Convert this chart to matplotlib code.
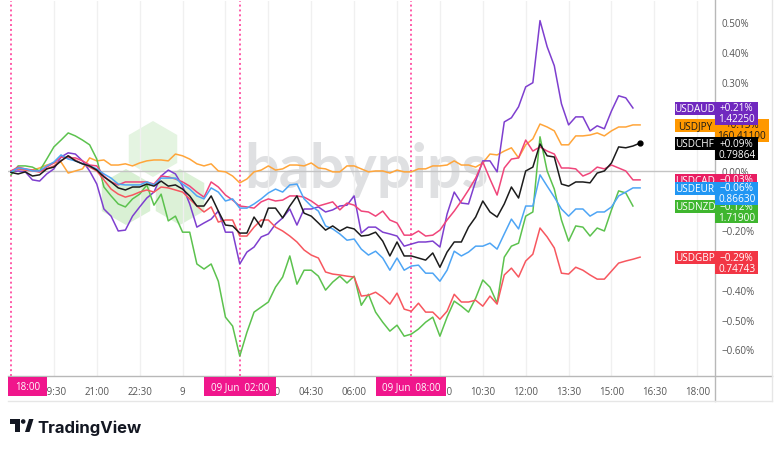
import numpy as np
import matplotlib.pyplot as plt
from matplotlib.patches import Rectangle, RegularPolygon, Polygon, Circle
from matplotlib.lines import Line2D
from matplotlib.transforms import IdentityTransform

plt.rcParams['font.family'] = ['Open Sans', 'DejaVu Sans']

W, H = 780, 452
PX = IdentityTransform()
nan = np.nan

# ================================
# Data: % change since 18:00 (8 Jun), 15-minute steps
# ================================
hours = np.arange(89) * 0.25  # hours after 18:00

usdaud = [-0.003, 0.000, -0.003, -0.030, -0.034, -0.010, 0.007, 0.047, 0.061, 0.057,
          0.034, 0.000, -0.044, -0.128, -0.152, -0.202, -0.199, -0.152, -0.121, -0.091,
          -0.071, -0.017, 0.003, -0.010, -0.051, -0.111, -0.189, -0.175, -0.162, -0.135,
          -0.206, -0.206, -0.313, -0.273, -0.256, -0.222, -0.212, -0.179, -0.158, -0.128,
          -0.182, -0.128, -0.128, -0.121, -0.138, -0.131, -0.118, -0.115, -0.084, -0.209,
          -0.189, -0.189, -0.206, -0.212, -0.219, -0.253, -0.246, -0.239, -0.239, -0.236,
          -0.256, -0.145, -0.071, -0.108, -0.111, -0.034, 0.034, 0.034, -0.003, 0.165,
          0.179, 0.216, 0.283, 0.297, 0.506, 0.418, 0.354, 0.226, 0.155, 0.182,
          0.182, 0.135, 0.152, 0.142, 0.202, 0.253, 0.246, 0.212, nan]

usdjpy = [0.000, 0.007, 0.003, 0.003, 0.010, 0.020, 0.027, 0.030, -0.007, 0.000,
          0.007, 0.044, 0.034, 0.037, 0.020, 0.020, 0.024, 0.017, 0.027, 0.034,
          0.037, 0.037, 0.034, 0.057, 0.051, 0.040, 0.024, 0.017, 0.024, 0.000,
          -0.003, -0.017, -0.040, -0.027, -0.003, 0.003, 0.017, 0.003, 0.007, 0.020,
          0.020, 0.017, 0.027, 0.010, 0.007, -0.003, -0.003, 0.017, 0.017, 0.007,
          -0.003, 0.000, 0.000, -0.007, 0.003, -0.003, -0.003, 0.007, 0.007, 0.017,
          0.017, 0.020, 0.034, 0.020, 0.020, 0.013, 0.027, 0.057, 0.054, 0.067,
          0.078, 0.044, 0.088, 0.108, 0.158, 0.148, 0.135, 0.088, 0.088, 0.118,
          0.118, 0.121, 0.128, 0.118, 0.135, 0.148, 0.148, 0.155, 0.155]

usdchf = [-0.005, -0.010, -0.003, -0.017, -0.013, 0.007, 0.013, 0.034, 0.051, 0.034,
          0.024, 0.017, 0.003, -0.020, -0.037, -0.057, -0.064, -0.054, -0.054, -0.044,
          -0.051, -0.034, -0.051, -0.047, -0.061, -0.084, -0.118, -0.118, -0.084, -0.135,
          -0.182, -0.185, -0.209, -0.209, -0.155, -0.189, -0.125, -0.125, -0.158, -0.118,
          -0.084, -0.142, -0.152, -0.175, -0.199, -0.185, -0.202, -0.189, -0.195, -0.219,
          -0.216, -0.206, -0.236, -0.286, -0.239, -0.286, -0.286, -0.293, -0.300, -0.276,
          -0.324, -0.273, -0.239, -0.239, -0.189, -0.155, -0.101, -0.138, -0.155, -0.111,
          -0.054, -0.091, 0.000, 0.013, 0.091, 0.051, 0.047, -0.044, -0.051, -0.037,
          -0.037, -0.040, -0.007, 0.000, 0.027, 0.081, 0.078, 0.084, 0.094]

usdcad = [0.000, 0.013, 0.007, 0.003, -0.003, 0.013, 0.027, 0.047, 0.044, 0.044,
          0.034, 0.020, 0.017, -0.017, -0.037, -0.047, -0.037, -0.037, -0.037, -0.037,
          -0.044, -0.017, -0.020, -0.027, -0.037, -0.051, -0.071, -0.088, -0.037, -0.054,
          -0.081, -0.098, -0.118, -0.121, -0.125, -0.104, -0.094, -0.101, -0.098, -0.084,
          -0.084, -0.088, -0.101, -0.118, -0.111, -0.104, -0.131, -0.108, -0.115, -0.135,
          -0.138, -0.152, -0.135, -0.165, -0.175, -0.216, -0.216, -0.202, -0.219, -0.216,
          -0.199, -0.165, -0.135, -0.101, -0.064, -0.024, 0.030, -0.027, -0.081, 0.010,
          0.040, 0.044, 0.104, 0.067, 0.081, 0.067, 0.057, 0.010, 0.010, 0.007,
          -0.017, -0.007, 0.013, 0.007, 0.020, 0.010, 0.000, -0.030, -0.030]

useur = [-0.003, 0.010, 0.007, 0.000, 0.000, 0.017, 0.030, 0.054, 0.040, 0.034,
         0.024, 0.017, 0.007, -0.010, -0.024, -0.044, -0.047, -0.047, -0.047, -0.037,
         -0.047, -0.024, -0.024, -0.024, -0.044, -0.061, -0.084, -0.094, -0.057, -0.071,
         -0.101, -0.094, -0.125, -0.125, -0.111, -0.094, -0.074, -0.061, -0.071, -0.047,
         -0.044, -0.094, -0.118, -0.135, -0.185, -0.195, -0.212, -0.233, -0.229, -0.263,
         -0.283, -0.270, -0.293, -0.334, -0.293, -0.334, -0.320, -0.317, -0.344, -0.344,
         -0.371, -0.334, -0.270, -0.286, -0.273, -0.253, -0.253, -0.243, -0.263, -0.212,
         -0.162, -0.195, -0.118, -0.118, -0.013, -0.051, -0.088, -0.128, -0.152, -0.128,
         -0.128, -0.152, -0.138, -0.138, -0.121, -0.084, -0.071, -0.057, -0.057]

usdnzd = [-0.013, 0.017, 0.017, 0.013, 0.000, 0.040, 0.081, 0.104, 0.128, 0.118,
          0.104, 0.088, 0.040, -0.054, -0.084, -0.111, -0.121, -0.094, -0.078, -0.047,
          -0.115, -0.078, -0.168, -0.152, -0.206, -0.206, -0.313, -0.330, -0.313, -0.371,
          -0.492, -0.522, -0.623, -0.543, -0.475, -0.458, -0.441, -0.391, -0.357, -0.286,
          -0.381, -0.334, -0.334, -0.354, -0.401, -0.374, -0.354, -0.377, -0.354, -0.452,
          -0.415, -0.475, -0.509, -0.539, -0.519, -0.556, -0.549, -0.532, -0.509, -0.492,
          -0.556, -0.492, -0.438, -0.455, -0.475, -0.428, -0.367, -0.391, -0.445, -0.290,
          -0.253, -0.243, -0.152, -0.138, 0.115, 0.000, -0.061, -0.165, -0.236, -0.185,
          -0.189, -0.219, -0.192, -0.202, -0.131, -0.067, -0.074, -0.118, nan]

usdgbp = [0.000, 0.007, 0.003, 0.000, -0.003, 0.007, 0.017, 0.034, 0.051, 0.037,
          0.024, 0.013, 0.000, -0.030, -0.061, -0.078, -0.088, -0.081, -0.071, -0.064,
          -0.071, -0.054, -0.057, -0.064, -0.071, -0.094, -0.118, -0.138, -0.121, -0.172,
          -0.165, -0.165, -0.219, -0.219, -0.189, -0.165, -0.165, -0.189, -0.202, -0.219,
          -0.239, -0.266, -0.283, -0.293, -0.340, -0.347, -0.350, -0.354, -0.357, -0.421,
          -0.418, -0.408, -0.425, -0.448, -0.411, -0.465, -0.472, -0.445, -0.475, -0.475,
          -0.499, -0.472, -0.415, -0.441, -0.441, -0.435, -0.455, -0.421, -0.448, -0.350,
          -0.327, -0.357, -0.303, -0.280, -0.192, -0.222, -0.259, -0.344, -0.347, -0.324,
          -0.334, -0.350, -0.364, -0.364, -0.337, -0.310, -0.303, -0.297, -0.290]

symbols = ['USDAUD', 'USDJPY', 'USDCHF', 'USDCAD', 'USDEUR', 'USDNZD', 'USDGBP']
series = [usdaud, usdjpy, usdchf, usdcad, useur, usdnzd, usdgbp]
prices = ['1.42250', '160.41100', '0.79864', '', '0.86630', '1.71900', '0.74743']
line_colors = ['#7e3fcf', '#ffa53a', '#1c1c1c', '#f0457a', '#4ea5f5', '#5cc24e', '#f7575f']
box_colors = ['#7028bf', '#ff9800', '#000000', '#e91e63', '#2196f3', '#3fb62f', '#f23645']
text_colors = ['white', '#1a1a1a', 'white', 'white', 'white', 'white', 'white']

tick_hours = [1.5, 3, 4.5, 6, 7.5, 9, 10.5, 12, 13.5, 15, 16.5, 18, 19.5, 21, 22.5, 24]
tick_labels = ['19:30', '21:00', '22:30', '9', '01:30', '03:00', '04:30', '06:00',
               '07:30', '09:00', '10:30', '12:00', '13:30', '15:00', '16:30', '18:00']
session_hours = [0, 8, 14]
session_labels = ['18:00', '09 Jun  02:00', '09 Jun  08:00']
session_widths = [39, 72, 70]
y_ticks = [0.5, 0.4, 0.3, 0.2, 0.1, 0.0, -0.1, -0.2, -0.3, -0.4, -0.5, -0.6]

# ================================
# Figure / axes
# ================================
fig = plt.figure(figsize=(W / 100, H / 100), dpi=100)
fig.patch.set_facecolor('white')
ax = fig.add_axes([8 / W, 1 - 377 / H, 707 / W, 375 / H])
ax.set_xlim(-0.105, 24.62)
ax.set_ylim(-0.690, 0.572)

for s in ax.spines.values():
    s.set_visible(False)

ax.set_xticks(tick_hours)
ax.set_xticklabels(tick_labels)
ax.tick_params(axis='x', length=0, pad=7, labelsize=7, labelcolor='#555555')
ax.yaxis.tick_right()
ax.set_yticks(y_ticks)
ax.set_yticklabels([f"{v:.2f}%".replace('-', '\u2212') for v in y_ticks])
ax.tick_params(axis='y', length=0, pad=5, labelsize=7, labelcolor='#555555')
ax.grid(axis='x', color='#f0f0f0', lw=1)
ax.set_axisbelow(True)
ax.axhline(0, color='#c4c4c4', lw=1, zorder=1)

# watermark (babypips)
for (cx, cy), fc in zip([(153, 150), (126, 198), (180, 198)],
                        ['#e4f4e1', '#d9f0d4', '#dcf1d7']):
    ax.add_patch(RegularPolygon((cx, H - cy), 6, radius=28, orientation=0,
                                transform=PX, fc=fc, ec='none', zorder=0.4))
ax.text(366, H - 188, 'babypips', transform=PX, fontsize=44, family='Lato',
        weight='bold', color='#dfe0e2', ha='center', va='baseline', zorder=0.5)

# session markers
for h in session_hours:
    ax.axvline(h, color='#ff5aa8', lw=1.4, ls=(0, (1, 1.5)), zorder=1.5)

# series
draw_order = ['USDJPY', 'USDAUD', 'USDNZD', 'USDGBP', 'USDCAD', 'USDEUR', 'USDCHF']
for name in draw_order:
    k = symbols.index(name)
    ax.plot(hours, series[k], color=line_colors[k], lw=1.1, zorder=3)

chf = np.array(usdchf)
ax.plot(hours[-1], chf[-1], 'o', color='black', ms=3.5, zorder=4)

# ================================
# Right-side labels (figure pixel coords)
# ================================
box_order = ['USDJPY', 'USDCAD', 'USDNZD', 'USDGBP', 'USDAUD', 'USDCHF', 'USDEUR']
z = 5
for name in box_order:
    k = symbols.index(name)
    vals = np.array(series[k], dtype=float)
    last = np.where(~np.isnan(vals))[0][-1]
    yd = ax.transData.transform((hours[last], vals[last]))[1]
    top = yd + 6
    col, tc = box_colors[k], text_colors[k]
    fig.add_artist(Rectangle((675, top - 13), 40, 13, transform=PX, fc=col, ec='none', zorder=z))
    fig.text(695, top - 6.5, name, transform=PX, fontsize=7.2, color=tc, ha='center',
             va='center', zorder=z + 0.1)
    pct = f"{vals[last]:+.2f}%".replace('-', '\u2212')
    w = max(42, 7 + 5.2 * len(prices[k]))
    fig.add_artist(Rectangle((715, top - 23), w, 23, transform=PX, fc=col, ec='none', zorder=z))
    fig.text(715 + w / 2, top - 6, pct, transform=PX, fontsize=7.2, color=tc, ha='center',
             va='center', zorder=z + 0.1)
    if prices[k]:
        fig.text(715 + w / 2, top - 17, prices[k], transform=PX, fontsize=7.2, color=tc,
                 ha='center', va='center', zorder=z + 0.1)
    z += 1

# frame lines
fig.add_artist(Line2D([8, 772], [H - 377, H - 377], transform=PX, color='#b8b8b8', lw=1))
fig.add_artist(Line2D([715, 715], [H - 402, H], transform=PX, color='#b8b8b8', lw=1, zorder=0.9))
fig.add_artist(Line2D([8, 772], [H - 402, H - 402], transform=PX, color='#e6e6e6', lw=1))
fig.add_artist(Line2D([772, 772], [H - 402, H], transform=PX, color='#e6e6e6', lw=1))

# session date labels on time axis
for h, lab, w in zip(session_hours, session_labels, session_widths):
    xc = ax.transData.transform((h, 0))[0]
    x0 = max(8, xc - w / 2)
    fig.add_artist(Rectangle((x0, H - 397), w, 19, transform=PX, fc='#f0168c', ec='none', zorder=20))
    fig.text(x0 + w / 2, H - 388, lab, transform=PX, fontsize=7, color='white',
             ha='center', va='center', zorder=21)

# TradingView logo
logo = '#131722'
fig.add_artist(Rectangle((10, H - 424.5), 10, 4.5, transform=PX, fc=logo, ec='none'))
fig.add_artist(Rectangle((15, H - 433), 5, 13, transform=PX, fc=logo, ec='none'))
fig.add_artist(Circle((23.2, H - 422.5), 2.3, transform=PX, fc=logo, ec='none'))
fig.add_artist(Polygon([(25, H - 433), (29.5, H - 433), (33.5, H - 420), (29, H - 420)],
                       closed=True, transform=PX, fc=logo, ec='none'))
fig.text(37, H - 433, 'TradingView', transform=PX, fontsize=12, family='Inter',
         weight='bold', color=logo, va='baseline')

fig.savefig('out.png', dpi=100)
